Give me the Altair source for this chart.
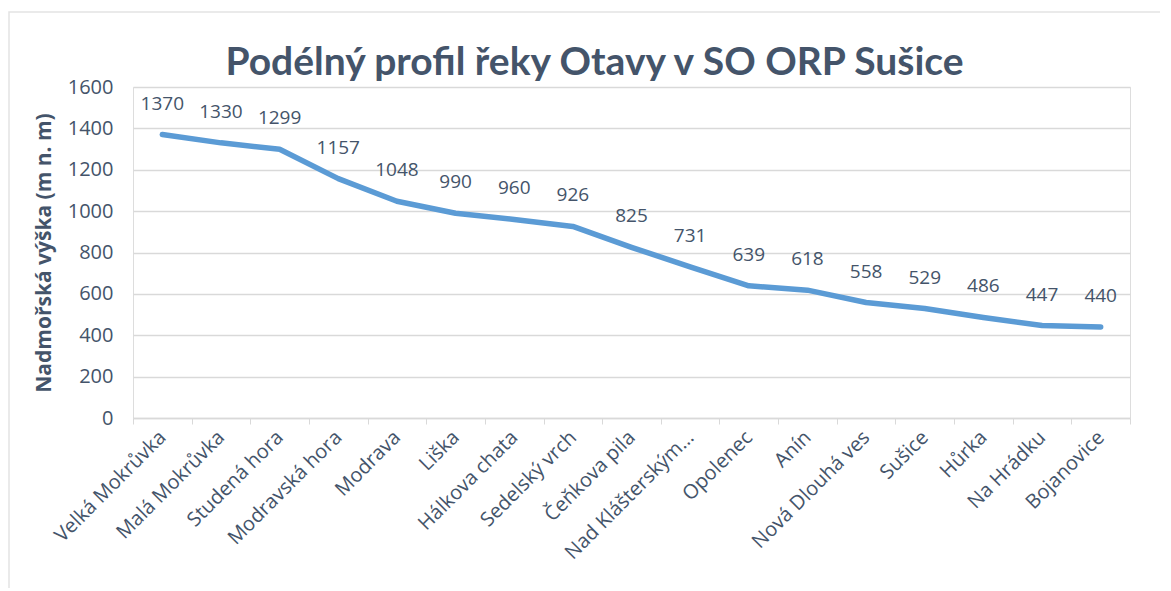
import altair as alt
import pandas as pd

places = ["Velká Mokrůvka", "Malá Mokrůvka", "Studená hora", "Modravská hora",
          "Modrava", "Liška", "Hálkova chata", "Sedelský vrch", "Čeňkova pila",
          "Nad Klášterským…", "Opolenec", "Anín", "Nová Dlouhá ves", "Sušice",
          "Hůrka", "Na Hrádku", "Bojanovice"]
elevation = [1370, 1330, 1299, 1157, 1048, 990, 960, 926, 825, 731, 639, 618,
             558, 529, 486, 447, 440]
y_ticks = [0, 200, 400, 600, 800, 1000, 1200, 1400, 1600]

df = pd.DataFrame({"misto": places, "vyska": elevation})

TXT = "#44546A"
GRID = "#D9D9D9"
FONT = "Open Sans"

x_enc = alt.X("misto:N", sort=places, title=None,
              scale=alt.Scale(type="band", paddingInner=0, paddingOuter=0),
              axis=alt.Axis(labelAngle=-45, labelAlign="right", labelBaseline="middle",
                            labelFontSize=20, labelColor=TXT, labelFont=FONT,
                            labelPadding=10, labelLimit=300,
                            tickBand="extent", tickColor=GRID, tickSize=6,
                            domainColor=GRID, domainWidth=1.5, grid=False))
y_enc = alt.Y("vyska:Q", title="Nadmořská výška (m n. m)",
              scale=alt.Scale(domain=[0, 1600], nice=False),
              axis=alt.Axis(values=y_ticks, format="d", labelFontSize=20, labelColor=TXT,
                            labelFont=FONT, labelPadding=20, ticks=False, domain=False,
                            gridColor=GRID, gridWidth=1.3,
                            titleFontSize=21, titleFontWeight="bold", titleColor=TXT,
                            titleFont=FONT, titlePadding=13))

base = alt.Chart(df)

frame = alt.Chart(pd.DataFrame({"a": [0]})).mark_rect(
    fill=None, stroke="#E3E3E3", strokeWidth=1.5
).encode(x=alt.value(-124), x2=alt.value(1200), y=alt.value(-75), y2=alt.value(600))

line = base.mark_line(color="#5B9BD5", strokeWidth=5.5, strokeCap="round",
                      strokeJoin="round").encode(x=x_enc, y=y_enc)

labels = base.mark_text(dy=-31, fontSize=19, color=TXT, font=FONT,
                        baseline="middle").encode(
    x=alt.X("misto:N", sort=places), y="vyska:Q", text="vyska:Q")

chart = (frame + line + labels).properties(
    width=997, height=331,
    title=alt.TitleParams("Podélný profil řeky Otavy v SO ORP Sušice",
                          fontSize=39, font="Lato", fontWeight="bold",
                          color=TXT, anchor="middle", dx=-37, offset=-72),
    autosize=alt.AutoSizeParams(type="none"),
    padding={"left": 125, "top": 79, "right": 30, "bottom": 170},
).configure_view(stroke=None).configure(background="white")

chart.save("out.html", embed_options={"renderer": "svg", "actions": False})
